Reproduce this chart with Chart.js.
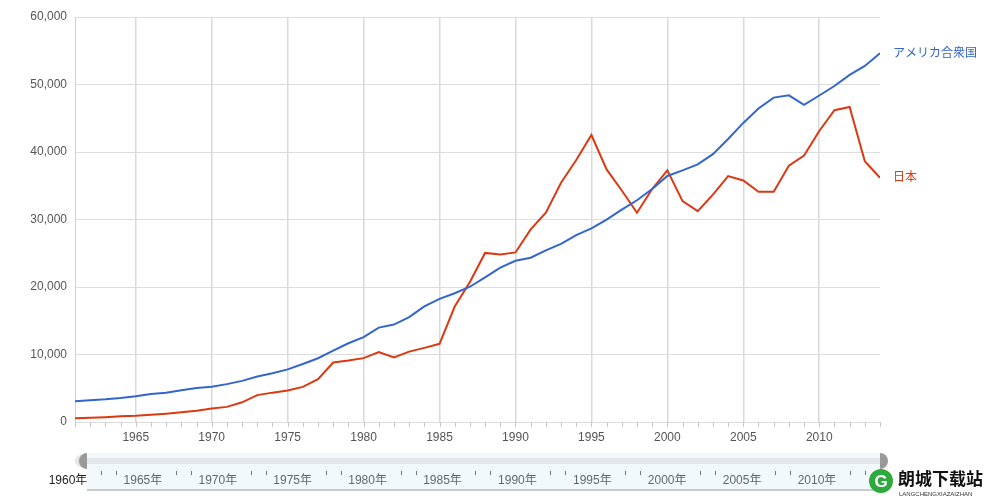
<!DOCTYPE html>
<html>
<head>
<meta charset="utf-8">
<script src="https://cdn.jsdelivr.net/npm/chart.js@4/dist/chart.umd.min.js"></script>
<style>
    html, body { margin: 0; padding: 0; background: #fff; }
    #wrap { position: relative; width: 989px; height: 500px; }
</style>
</head>
<body>
<div id="wrap"><canvas id="gdpChart" width="989" height="500"></canvas></div>
<script>
// ── Data (GDP per capita, US$) ─────────────────────────────
const years = [1961, 1962, 1963, 1964, 1965, 1966, 1967, 1968, 1969, 1970,
    1971, 1972, 1973, 1974, 1975, 1976, 1977, 1978, 1979, 1980,
    1981, 1982, 1983, 1984, 1985, 1986, 1987, 1988, 1989, 1990,
    1991, 1992, 1993, 1994, 1995, 1996, 1997, 1998, 1999, 2000,
    2001, 2002, 2003, 2004, 2005, 2006, 2007, 2008, 2009, 2010,
    2011, 2012, 2013, 2014];

const usaValues = [3070, 3240, 3380, 3570, 3830, 4150, 4340, 4700, 5030, 5230,
    5610, 6090, 6730, 7230, 7800, 8590, 9450, 10570, 11670, 12580,
    13980, 14430, 15540, 17120, 18240, 19070, 20040, 21420, 22860, 23890,
    24340, 25420, 26390, 27700, 28690, 29970, 31460, 32850, 34520, 36450,
    37270, 38170, 39680, 41920, 44310, 46440, 48060, 48400, 47000, 48370,
    49780, 51430, 52750, 54630];

const japanValues = [560, 630, 720, 840, 920, 1060, 1230, 1450, 1670, 2000,
    2240, 2920, 3980, 4350, 4660, 5200, 6340, 8820, 9100, 9460,
    10360, 9580, 10430, 10980, 11580, 17110, 20750, 25050, 24810, 25120,
    28540, 31010, 35450, 38820, 42520, 37420, 34300, 31000, 34520, 37290,
    32720, 31240, 33690, 36440, 35780, 34100, 34100, 37970, 39470, 43120,
    46200, 46680, 38630, 36190];

const seriesNames = ["アメリカ合衆国", "日本"];
const seriesColors = ["#3366cc", "#dc3912"];
const yearTicks = [1965, 1970, 1975, 1980, 1985, 1990, 1995, 2000, 2005, 2010];
const sliderLabels = [1960, 1965, 1970, 1975, 1980, 1985, 1990, 1995, 2000, 2005, 2010];

const FONT = "Arial, 'Liberation Sans', 'Noto Sans CJK JP', sans-serif";
const CJK_FONT = "'Noto Sans CJK JP', Arial, sans-serif";

// ── Series labels at the right end of each line ────────────
const endLabels = {
    id: "endLabels",
    afterDatasetsDraw(chart) {
        const { ctx } = chart;
        ctx.save();
        ctx.font = "12px " + CJK_FONT;
        ctx.textBaseline = "middle";
        ctx.textAlign = "left";
        chart.data.datasets.forEach((ds, i) => {
            const meta = chart.getDatasetMeta(i);
            const last = meta.data[meta.data.length - 1];
            ctx.fillStyle = ds.borderColor;
            ctx.fillText(ds.label, last.x + 13, last.y - 1);
        });
        ctx.restore();
    }
};

// ── Minor year ticks under the x axis ──────────────────────
const minorTicks = {
    id: "minorTicks",
    afterDraw(chart) {
        const { ctx, chartArea } = chart;
        const x = chart.scales.x;
        ctx.save();
        ctx.strokeStyle = "#c8c8c8";
        ctx.lineWidth = 1;
        years.forEach((yr) => {
            const px = Math.round(x.getPixelForValue(yr)) + 0.5;
            ctx.beginPath();
            ctx.moveTo(px, chartArea.bottom);
            ctx.lineTo(px, chartArea.bottom + 5);
            ctx.stroke();
        });
        ctx.restore();
    }
};

// ── Timeline slider + watermark at the bottom ──────────────
const timeline = {
    id: "timeline",
    afterDraw(chart) {
        const { ctx } = chart;
        const start = 68, perYear = 14.98;
        const sx = (yr) => start + (yr - 1960) * perYear;
        const left = 87, right = 880, top = 453, bottom = 490;
        ctx.save();

        // band
        ctx.fillStyle = "#f2f9fc";
        ctx.fillRect(left, top, right - left, bottom - top);
        ctx.fillStyle = "#e2e7ea";
        ctx.fillRect(left, top + 5, right - left, 6);
        ctx.fillStyle = "#c9cdd0";
        ctx.fillRect(left, bottom - 1, right - left, 2);

        // handles
        ctx.fillStyle = "#e6e6e6";
        ctx.beginPath();
        ctx.arc(left - 6, top + 8, 6, 0, Math.PI * 2);
        ctx.fill();
        ctx.fillStyle = "#999";
        [[left, Math.PI / 2, Math.PI * 1.5], [right, -Math.PI / 2, Math.PI / 2]].forEach(([hx, a0, a1]) => {
            ctx.beginPath();
            ctx.moveTo(hx, top);
            ctx.arc(hx, top + 8, 8, a0, a1, hx === left ? false : false);
            ctx.closePath();
            ctx.fill();
        });

        // tick marks
        ctx.strokeStyle = "#777";
        ctx.lineWidth = 1;
        sliderLabels.forEach((yr) => {
            [2.2, 3.2].forEach((off) => {
                const px = Math.round(sx(yr + off)) + 0.5;
                ctx.beginPath();
                ctx.moveTo(px, 471);
                ctx.lineTo(px, 475);
                ctx.stroke();
            });
        });

        // labels
        ctx.font = "12px " + FONT;
        ctx.textAlign = "center";
        ctx.textBaseline = "middle";
        sliderLabels.forEach((yr, i) => {
            ctx.fillStyle = i === 0 ? "#222" : "#666";
            ctx.fillText(yr + "年", sx(yr), 481);
        });

        // watermark
        ctx.fillStyle = "#2eaa3c";
        ctx.beginPath();
        ctx.arc(881, 481, 12, 0, Math.PI * 2);
        ctx.fill();
        ctx.fillStyle = "#fff";
        ctx.font = "bold 17px " + FONT;
        ctx.fillText("G", 881, 482);
        ctx.fillStyle = "#111";
        ctx.textAlign = "left";
        ctx.font = "bold 17px " + CJK_FONT;
        ctx.fillText("朗城下载站", 898, 479);
        ctx.font = "6px " + FONT;
        ctx.fillStyle = "#333";
        ctx.fillText("LANGCHENGXIAZAIZHAN", 899, 494);
        ctx.restore();
    }
};

new Chart(document.getElementById("gdpChart"), {
    type: "line",
    data: {
        datasets: [
            {
                label: seriesNames[0],
                data: years.map((yr, i) => ({ x: yr, y: usaValues[i] })),
                borderColor: seriesColors[0],
                backgroundColor: seriesColors[0],
                borderWidth: 2,
                pointRadius: 0,
                tension: 0
            },
            {
                label: seriesNames[1],
                data: years.map((yr, i) => ({ x: yr, y: japanValues[i] })),
                borderColor: seriesColors[1],
                backgroundColor: seriesColors[1],
                borderWidth: 2,
                pointRadius: 0,
                tension: 0
            }
        ]
    },
    options: {
        responsive: false,
        animation: false,
        layout: {
            padding: { top: 17, right: 109, left: 0, bottom: 0 }
        },
        plugins: {
            legend: { display: false },
            tooltip: { enabled: false }
        },
        scales: {
            x: {
                type: "linear",
                min: 1961,
                max: 2014,
                afterBuildTicks: (scale) => {
                    scale.ticks = yearTicks.map((v) => ({ value: v }));
                },
                afterFit: (scale) => {
                    scale.height = 78;
                },
                grid: {
                    color: "#d9d9d9",
                    lineWidth: 1.5,
                    drawTicks: false
                },
                border: { display: false },
                ticks: {
                    padding: 8,
                    color: "#555",
                    font: { family: FONT, size: 12 },
                    maxRotation: 0,
                    callback: (v) => String(v)
                }
            },
            y: {
                min: 0,
                max: 60000,
                afterFit: (scale) => {
                    scale.width = 75;
                },
                grid: {
                    color: "#dddddd",
                    lineWidth: 1,
                    drawTicks: false
                },
                border: { display: true, color: "#d0d0d0" },
                ticks: {
                    stepSize: 10000,
                    padding: 8,
                    color: "#555",
                    font: { family: FONT, size: 12 },
                    callback: (v) => v.toLocaleString("en-US")
                }
            }
        }
    },
    plugins: [endLabels, minorTicks, timeline]
});
</script>
</body>
</html>
